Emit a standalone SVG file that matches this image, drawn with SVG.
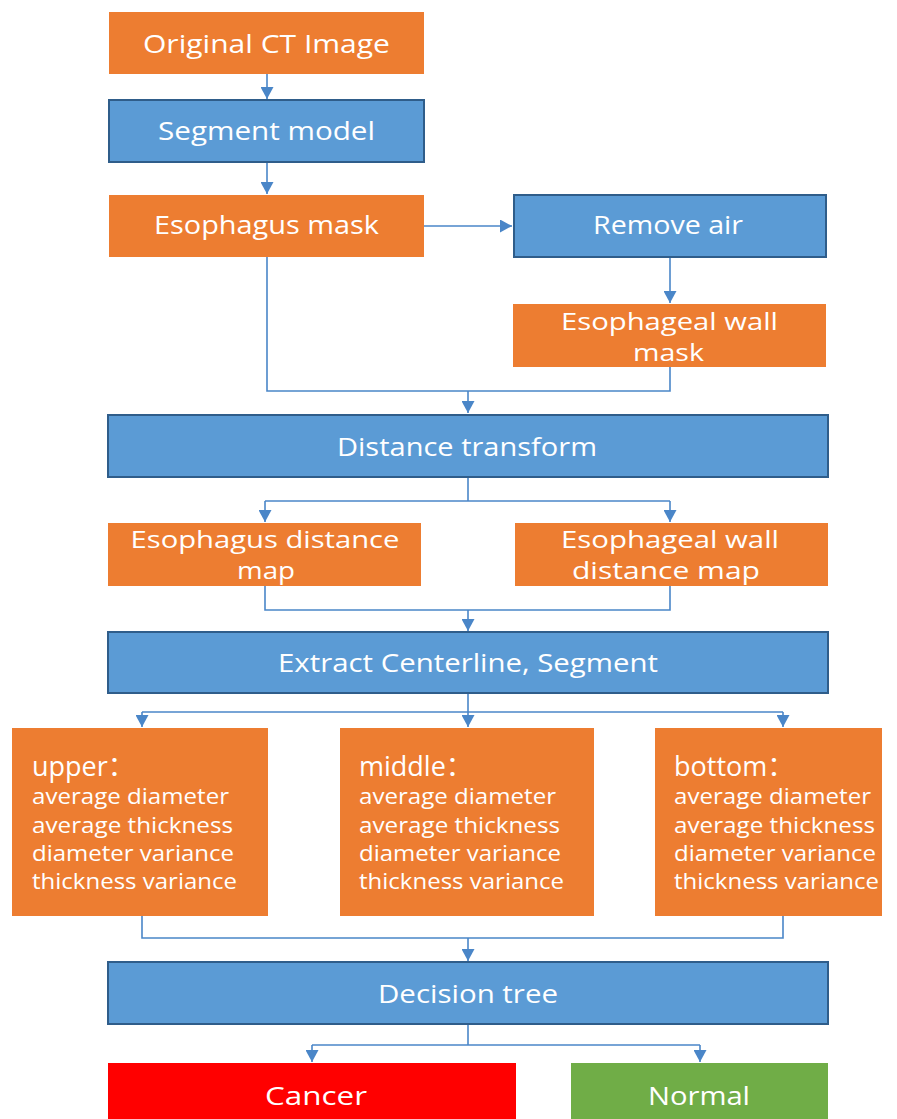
<svg xmlns="http://www.w3.org/2000/svg" width="897" height="1119" viewBox="0 0 897 1119">
<style>
.o{fill:#ED7D31}
.b{fill:#5B9BD5;stroke:#2F5D8A;stroke-width:2}
.t{font-family:"Open Sans","Noto Sans","Noto Sans CJK SC",sans-serif;fill:#fff;font-size:26px;text-anchor:middle}
.t2{font-family:"Open Sans","Noto Sans",sans-serif;fill:#fff;font-size:23px;text-anchor:middle}
.h{font-family:"Open Sans","Noto Sans","Noto Sans CJK SC",sans-serif;fill:#fff;font-size:27px}
.s{font-family:"Open Sans","Noto Sans",sans-serif;fill:#fff;font-size:21px}
.c{fill:none;stroke:#4A86C8;stroke-width:1.6}
</style>
<defs>
<marker id="a" markerUnits="userSpaceOnUse" markerWidth="14" markerHeight="13" refX="12" refY="6.5" orient="auto">
<path d="M0,0 L12,6.5 L0,13 Z" fill="#4A86C8"/>
</marker>
</defs>
<rect width="897" height="1119" fill="#fff"/>
<g id="connectors">
<path class="c" d="M267,74 V99" marker-end="url(#a)"/>
<path class="c" d="M267,162 V194" marker-end="url(#a)"/>
<path class="c" d="M424,226 H512" marker-end="url(#a)"/>
<path class="c" d="M670,257 V303" marker-end="url(#a)"/>
<path class="c" d="M267,257 V391 H670 V367"/>
<path class="c" d="M468,391 V413" marker-end="url(#a)"/>
<path class="c" d="M468,477 V501"/>
<path class="c" d="M265,501 H670"/>
<path class="c" d="M265,501 V522" marker-end="url(#a)"/>
<path class="c" d="M670,501 V522" marker-end="url(#a)"/>
<path class="c" d="M265,586 V610 H670 V586"/>
<path class="c" d="M468,610 V631" marker-end="url(#a)"/>
<path class="c" d="M468,693 V712"/>
<path class="c" d="M142,712 H783"/>
<path class="c" d="M142,712 V727" marker-end="url(#a)"/>
<path class="c" d="M468,712 V727" marker-end="url(#a)"/>
<path class="c" d="M783,712 V727" marker-end="url(#a)"/>
<path class="c" d="M142,916 V938 H783 V916"/>
<path class="c" d="M468,938 V961" marker-end="url(#a)"/>
<path class="c" d="M468,1024 V1045"/>
<path class="c" d="M312,1045 H700"/>
<path class="c" d="M312,1045 V1062" marker-end="url(#a)"/>
<path class="c" d="M700,1045 V1062" marker-end="url(#a)"/>
</g>
<g id="original">
<rect class="o" x="109" y="12" width="315" height="62"/>
<text class="t" x="266.5" y="53" textLength="247" lengthAdjust="spacingAndGlyphs">Original CT Image</text>
</g>
<g id="segment">
<rect class="b" x="109" y="100" width="315" height="62"/>
<text class="t" x="266.5" y="140" textLength="217" lengthAdjust="spacingAndGlyphs">Segment model</text>
</g>
<g id="esomask">
<rect class="o" x="109" y="195" width="315" height="62"/>
<text class="t" x="266.5" y="234" textLength="225" lengthAdjust="spacingAndGlyphs">Esophagus mask</text>
</g>
<g id="removeair">
<rect class="b" x="514" y="195" width="312" height="62"/>
<text class="t" x="668" y="234" textLength="150" lengthAdjust="spacingAndGlyphs">Remove air</text>
</g>
<g id="wallmask">
<rect class="o" x="513" y="304" width="313" height="63"/>
<text class="t2" x="669.5" y="330" textLength="217" lengthAdjust="spacingAndGlyphs">Esophageal wall</text>
<text class="t2" x="668.5" y="361" textLength="71" lengthAdjust="spacingAndGlyphs">mask</text>
</g>
<g id="distance">
<rect class="b" x="108" y="415" width="720" height="62"/>
<text class="t" x="467" y="456" textLength="260" lengthAdjust="spacingAndGlyphs">Distance transform</text>
</g>
<g id="esodist">
<rect class="o" x="108" y="523" width="313" height="63"/>
<text class="t2" x="265" y="548" textLength="269" lengthAdjust="spacingAndGlyphs">Esophagus distance</text>
<text class="t2" x="266" y="579" textLength="58" lengthAdjust="spacingAndGlyphs">map</text>
</g>
<g id="walldist">
<rect class="o" x="515" y="523" width="313" height="63"/>
<text class="t2" x="670" y="548" textLength="218" lengthAdjust="spacingAndGlyphs">Esophageal wall</text>
<text class="t2" x="666" y="579" textLength="188" lengthAdjust="spacingAndGlyphs">distance map</text>
</g>
<g id="centerline">
<rect class="b" x="108" y="632" width="720" height="61"/>
<text class="t" x="468" y="672" textLength="380" lengthAdjust="spacingAndGlyphs">Extract Centerline, Segment</text>
</g>
<g id="upper">
<rect class="o" x="12" y="728" width="256" height="188"/>
<text class="h" x="32" y="776">upper：</text>
<text class="s" x="32" y="804" textLength="197" lengthAdjust="spacingAndGlyphs">average diameter</text>
<text class="s" x="32" y="833" textLength="201" lengthAdjust="spacingAndGlyphs">average thickness</text>
<text class="s" x="32" y="861" textLength="202" lengthAdjust="spacingAndGlyphs">diameter variance</text>
<text class="s" x="32" y="889" textLength="205" lengthAdjust="spacingAndGlyphs">thickness variance</text>
</g>
<g id="middle">
<rect class="o" x="340" y="728" width="254" height="188"/>
<text class="h" x="359" y="776">middle：</text>
<text class="s" x="359" y="804" textLength="197" lengthAdjust="spacingAndGlyphs">average diameter</text>
<text class="s" x="359" y="833" textLength="201" lengthAdjust="spacingAndGlyphs">average thickness</text>
<text class="s" x="359" y="861" textLength="202" lengthAdjust="spacingAndGlyphs">diameter variance</text>
<text class="s" x="359" y="889" textLength="205" lengthAdjust="spacingAndGlyphs">thickness variance</text>
</g>
<g id="bottom">
<rect class="o" x="655" y="728" width="227" height="188"/>
<text class="h" x="674" y="776">bottom：</text>
<text class="s" x="674" y="804" textLength="197" lengthAdjust="spacingAndGlyphs">average diameter</text>
<text class="s" x="674" y="833" textLength="201" lengthAdjust="spacingAndGlyphs">average thickness</text>
<text class="s" x="674" y="861" textLength="202" lengthAdjust="spacingAndGlyphs">diameter variance</text>
<text class="s" x="674" y="889" textLength="205" lengthAdjust="spacingAndGlyphs">thickness variance</text>
</g>
<g id="decision">
<rect class="b" x="108" y="962" width="720" height="62"/>
<text class="t" x="468" y="1003" textLength="180" lengthAdjust="spacingAndGlyphs">Decision tree</text>
</g>
<g id="cancer">
<rect x="108" y="1063" width="408" height="60" fill="#FF0000"/>
<text class="t" x="316" y="1105" textLength="102" lengthAdjust="spacingAndGlyphs">Cancer</text>
</g>
<g id="normal">
<rect x="571" y="1063" width="257" height="60" fill="#70AD47"/>
<text class="t" x="699" y="1105" textLength="102" lengthAdjust="spacingAndGlyphs">Normal</text>
</g>
</svg>
